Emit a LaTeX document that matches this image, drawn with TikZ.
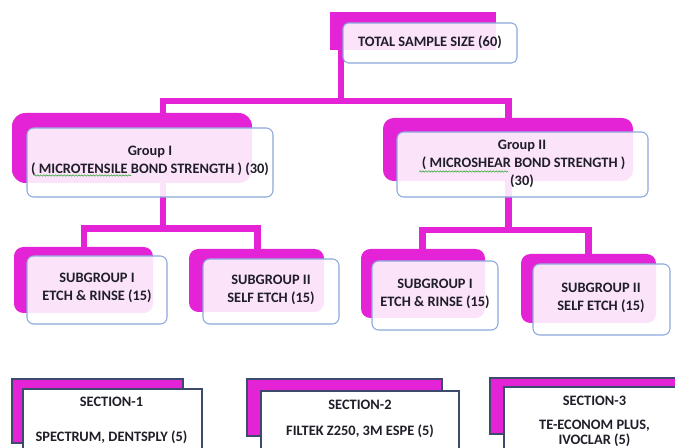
\documentclass[tikz,border=0pt]{standalone}
\usepackage{fontspec}
\setmainfont{Carlito}
\usetikzlibrary{fit,positioning,decorations.pathmorphing}
\newcommand{\boxfont}{\fontsize{10.8}{13.6}\selectfont\bfseries}
\tikzset{
  backsq/.style={fill=orchidband, inner sep=0pt},
  backround/.style={fill=orchidband, inner sep=0pt, rounded corners=7pt},
  backsection/.style={fill=orchidband, draw=framedark, line width=0.9pt, inner sep=0pt},
  frontround/.style={draw=frameblue, line width=0.8pt, fill=white,
                     fill opacity=0.88, rounded corners=5pt, inner sep=0pt},
  frontsection/.style={draw=framedark, line width=0.9pt, fill=white, inner sep=0pt},
  boxtext/.style={text=inkgrey, align=center, font=\boxfont, inner sep=0pt},
  link/.style={draw=orchidband, line width=4.8pt},
  spellmark/.style={draw=squiggle, line width=0.45pt, decorate,
                    decoration={snake, amplitude=0.5pt, segment length=2.2pt}},
}

\begin{document}
\begin{tikzpicture}[x=0.75pt, y=-0.75pt]
% Defining colors
\definecolor{orchidband}{RGB}{228,34,214}
\definecolor{frameblue}{RGB}{140,168,220}
\definecolor{framedark}{RGB}{62,74,108}
\definecolor{inkgrey}{RGB}{32,30,40}
\definecolor{squiggle}{RGB}{60,170,60}

\clip (0,0) rectangle (675,448);

% =:=:=:=:=:=:=:=:=:=:=:=:=:=:=:=:=:=:=
% Back panels (magenta)
% =:=:=:=:=:=:=:=:=:=:=:=:=:=:=:=:=:=:=
\node[backsq, fit={(330,12) (496,50)}] (totalback) {};
\node[backround, rounded corners=10pt, fit={(12,113) (252,183)}] (g1back) {};
\node[backround, rounded corners=8pt, fit={(383,118) (633,181)}] (g2back) {};
\node[backround, fit={(14,247) (153,313)}] (s11back) {};
\node[backround, fit={(189,249) (324,312)}] (s12back) {};
\node[backround, fit={(361,249) (485,318)}] (s21back) {};
\node[backround, fit={(521,254) (656,323)}] (s22back) {};

% =:=:=:=:=:=:=:=:=:=:=:=:=:=:=:=:=:=:=
% Connectors (behind the front boxes)
% =:=:=:=:=:=:=:=:=:=:=:=:=:=:=:=:=:=:=
\coordinate (tophub) at (341,101);
\coordinate (g1drop) at (163,101);
\coordinate (g2drop) at (508.5,101);
\draw[link] (totalback.south -| tophub) -- (tophub);
\draw[link] (g1back.north -| g1drop) -- (g1drop) -- (g2drop)
    -- (g2back.north -| g2drop);

\coordinate (g1hub) at (163,228.5);
\coordinate (s11drop) at (84,228.5);
\coordinate (s12drop) at (257.5,228.5);
\draw[link] (g1back.south -| g1hub) -- (g1hub);
\draw[link] (s11back.north -| s11drop) -- (s11drop) -- (s12drop)
    -- (s12back.north -| s12drop);

\coordinate (g2hub) at (508.5,230);
\coordinate (s21drop) at (422.5,230);
\coordinate (s22drop) at (588.5,230);
\draw[link] (g2back.south -| g2hub) -- (g2hub);
\draw[link] (s21back.north -| s21drop) -- (s21drop) -- (s22drop)
    -- (s22back.north -| s22drop);

% =:=:=:=:=:=:=:=:=:=:=:=:=:=:=:=:=:=:=
% Front boxes
% =:=:=:=:=:=:=:=:=:=:=:=:=:=:=:=:=:=:=
\node[frontround, rounded corners=4pt, fit={(343,23) (517,63)}] (total) {};
\node[frontround, fit={(27,128) (273,197)}] (g1) {};
\node[frontround, fit={(397,132) (648,197)}] (g2) {};
\node[frontround, fit={(27,256) (167,324)}] (s11) {};
\node[frontround, fit={(203,259) (339,324)}] (s12) {};
\node[frontround, fit={(372,261) (498,330)}] (s21) {};
\node[frontround, fit={(533,264) (670,335)}] (s22) {};

% =:=:=:=:=:=:=:=:=:=:=:=:=:=:=:=:=:=:=
% Sections (bottom row, cut by the page)
% =:=:=:=:=:=:=:=:=:=:=:=:=:=:=:=:=:=:=
\node[backsection, fit={(12,379) (183,443)}] (sec1back) {};
\node[frontsection, fit={(23,389) (202,460)}] (sec1) {};
\node[backsection, fit={(247,379) (442,436)}] (sec2back) {};
\node[frontsection, fit={(261,391) (459,460)}] (sec2) {};
\node[backsection, fit={(490,378) (680,434)}] (sec3back) {};
\node[frontsection, fit={(504,387) (690,460)}] (sec3) {};

% =:=:=:=:=:=:=:=:=:=:=:=:=:=:=:=:=:=:=
% Texts
% =:=:=:=:=:=:=:=:=:=:=:=:=:=:=:=:=:=:=
\node[boxtext] (totaltext) at (430,42) {TOTAL SAMPLE SIZE (60)};
\node[boxtext] (g1text) at (150,160.5)
    {Group I\\( MICROTENSILE BOND STRENGTH ) (30)};
\node[boxtext] (g2text) at (522,164)
    {Group II\\ \ ( MICROSHEAR BOND STRENGTH )\\(30)};
\node[boxtext] (s11text) at (97,287.5) {SUBGROUP I\\ETCH \& RINSE (15)};
\node[boxtext] (s12text) at (271,289.5) {SUBGROUP II\\SELF ETCH (15)};
\node[boxtext] (s21text) at (435,294) {SUBGROUP I\\ETCH \& RINSE (15)};
\node[boxtext] (s22text) at (601,297.5) {SUBGROUP II\\SELF ETCH (15)};

\node[boxtext] (sec1text) at (111.5,420.5)
    {SECTION-1\\[12.5pt]SPECTRUM, DENTSPLY (5)};
\node[boxtext] (sec2text) at (360,419)
    {SECTION-2\\[6pt]FILTEK Z250, 3M ESPE (5)};
\node[boxtext] (sec3text) at (594.5,421.5)
    {SECTION-3\\[4pt]TE-ECONOM PLUS,\\[-2pt]IVOCLAR (5)};

% spell-check marks
\draw[spellmark] (34,175.5) -- (131,175.5);
\draw[spellmark] (419,171.5) -- (508,171.5);

\end{tikzpicture}
\end{document}
